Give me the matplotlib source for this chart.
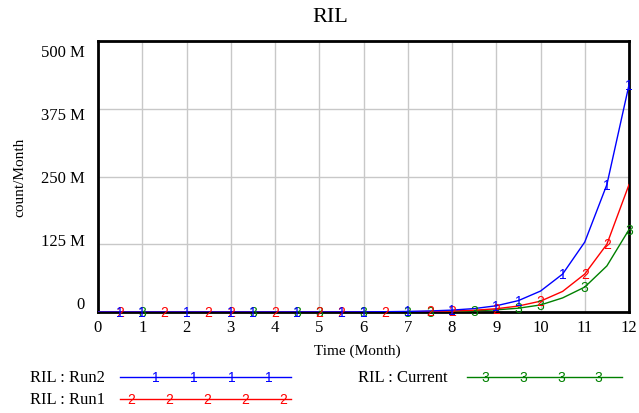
import matplotlib
matplotlib.use("Agg")
import matplotlib.pyplot as plt
import matplotlib.transforms as mtransforms
from matplotlib.lines import Line2D

# ---- data (values in millions, counts/Month) ----
time = [0, 0.5, 1, 1.5, 2, 2.5, 3, 3.5, 4, 4.5, 5, 5.5, 6, 6.5, 7, 7.5,
        8, 8.5, 9, 9.5, 10, 10.5, 11, 11.5, 12]
run2 = [0.001, 0.002, 0.003, 0.005, 0.008, 0.014, 0.025, 0.045, 0.08, 0.14,
        0.1, 0.18, 0.32, 0.58, 1.05, 1.9, 3.5, 6.3, 11.5, 21, 38.6, 70, 129, 235, 419]
run1 = [0.001, 0.001, 0.002, 0.003, 0.005, 0.008, 0.014, 0.025, 0.045, 0.08,
        0.1, 0.17, 0.3, 0.55, 0.55, 1.0, 1.8, 3.3, 6, 11, 20, 38, 70, 125, 235]
current = [0.001, 0.001, 0.001, 0.002, 0.003, 0.005, 0.008, 0.014, 0.025, 0.045,
           0.08, 0.1, 0.14, 0.25, 0.4, 0.7, 1.2, 2.2, 4, 7, 13, 26, 46, 85, 152]

run2_marks = [0.5, 1, 2, 3, 3.5, 4.5, 5.5, 6, 7, 8, 9, 9.5, 10.5, 11.5, 12]
run1_marks = [0.5, 1.5, 2.5, 3, 4, 5, 5.5, 6.5, 7.5, 8, 9, 10, 11, 11.5]
current_marks = [1, 3.5, 4.5, 5, 6, 7, 7.5, 8.5, 9.5, 10, 11, 12]

yticks = [0, 125, 250, 375, 500]
ytick_labels = ["0", "125 M", "250 M", "375 M", "500 M"]
xticks = list(range(13))

series = [
    ("RIL : Run2", run2, run2_marks, "1", "#0000ff"),
    ("RIL : Run1", run1, run1_marks, "2", "#ff0000"),
    ("RIL : Current", current, current_marks, "3", "#008000"),
]

serif = ["Liberation Serif", "DejaVu Serif"]
sans = ["Liberation Sans", "DejaVu Sans"]

W, H = 639, 414
fig = plt.figure(figsize=(W / 100, H / 100), dpi=100)
ax = fig.add_axes([98 / W, (H - 313) / H, (629 - 98) / W, (313 - 42) / H])

for name, vals, marks, digit, color in reversed(series):
    ax.plot(time, vals, color=color, lw=1.0, zorder=3)
for name, vals, marks, digit, color in reversed(series):
    for t in marks:
        i = time.index(t)
        ax.text(t, vals[i], digit, color=color, fontsize=10, family=sans,
                ha="center", va="center", zorder=4)

ax.set_xlim(0, 12)
ax.set_ylim(0, 500)
ax.set_xticks(xticks)
ax.set_xticklabels([str(x) for x in xticks], family=serif, fontsize=12)
ax.set_yticks(yticks)
ax.set_yticklabels([])
ax.tick_params(length=0, pad=5)
ax.grid(True, color="#c8c8c8", lw=1.0)
ax.set_axisbelow(True)
for s in ax.spines.values():
    s.set_linewidth(2.0)
    s.set_color("black")

trans = mtransforms.blended_transform_factory(ax.transAxes, ax.transData)
for v, lab in zip(yticks, ytick_labels):
    ax.text(-0.025, 14.7 + v * 0.93, lab, transform=trans, ha="right",
            va="center", family=serif, fontsize=12)

fig.text(330 / W, 1 - 17 / H, "RIL", ha="center", va="center",
         family=serif, fontsize=16)
fig.text(20 / W, 1 - 177 / H, "count/Month", rotation=90, ha="center",
         va="center", family=serif, fontsize=11)
fig.text(357 / W, 1 - 351 / H, "Time (Month)", ha="center", va="center",
         family=serif, fontsize=11)

legend_layout = [
    (30, 378, 120, 291, [156, 194, 232, 269]),
    (30, 400, 120, 291, [131, 169, 207, 245, 283]),
    (358, 378, 467, 622, [485, 523, 561, 598]),
]
for (name, vals, marks, digit, color), (tx, ty, x0, x1, mk) in zip(series, legend_layout):
    fig.text(tx / W, 1 - ty / H, name, ha="left", va="center",
             family=serif, fontsize=12)
    fig.add_artist(Line2D([x0 / W, x1 / W], [1 - ty / H, 1 - ty / H],
                          color=color, lw=1.0, transform=fig.transFigure))
    for m in mk:
        fig.text(m / W, 1 - ty / H, digit, color=color, ha="center",
                 va="center", family=sans, fontsize=10)

fig.savefig("out.png", dpi=100)
